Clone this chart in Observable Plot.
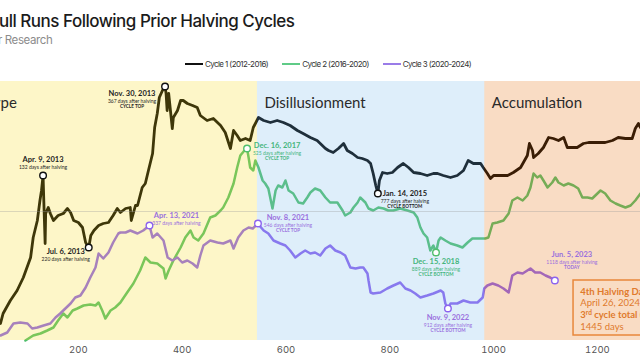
<!DOCTYPE html>
<html><head><meta charset="utf-8">
<script src="https://cdn.jsdelivr.net/npm/d3@7"></script>
<script src="https://cdn.jsdelivr.net/npm/@observablehq/plot@0.6"></script>
<style>
html,body{margin:0;padding:0;background:#fff;}
#wrap{position:relative;width:640px;height:360px;overflow:hidden;font-family:Inter,sans-serif;}
#title{position:absolute;left:-1px;top:11px;font-size:17px;line-height:20px;font-weight:500;letter-spacing:-0.5px;color:#1b1b1b;white-space:nowrap;}
#sub{position:absolute;left:-2px;top:33px;font-size:11.5px;line-height:14px;letter-spacing:-0.4px;color:#8c8c8c;white-space:nowrap;}
#legend{position:absolute;left:185px;top:59px;display:flex;align-items:center;font-size:8px;line-height:10px;letter-spacing:-0.6px;color:#333;white-space:nowrap;}
.it{display:flex;align-items:center;margin-right:14px;}
.sw{display:inline-block;width:18px;height:2px;margin-right:2px;}
#chart{position:absolute;left:0;top:75px;}
</style></head><body>
<div id="wrap">
<div id="title">ull Runs Following Prior Halving Cycles</div>
<div id="sub">r Research</div>
<div id="legend"></div>
<div id="chart"></div>
</div>
<script>
// ---- data (days after halving, relative index value) ----
const cycleNames = ["Cycle 1 (2012-2016)", "Cycle 2 (2016-2020)", "Cycle 3 (2020-2024)"];

const c1Day = [50,55,69,82,94,108,113,121,126,129,132,134,136,137,142,146,152,161,171,179,185,191,200,208,214,220,224,230,239,248,258,267,275,281,291,300,302,310,314,323,329,335,343,347,352,356,362,367,369,371,374,376,381,383,391,397,402,410,420,429,435,448,460,474,483,493,499,506,512,522,531,537,547,557,570,583,595,608,622,633,647,660,670,676,682,691,701,711,718,728,738,747,757,763,768,773,777,780,786,795,805,815,826,836,846,859,872,884,892,903,917,930,942,951,961,975,980,988,994,1000,1013,1027,1038,1052,1065,1069,1075,1077,1086,1096,1106,1115,1125,1135,1142,1152,1161,1173,1183,1200,1215,1229,1240,1254,1267,1273,1279,1283];
const c1Val = [17,27,40,50,63,83,103,120,140,150,165,130,97,127,133,127,120,125,127,132,128,120,118,113,98,93,105,110,115,117,118,125,132,128,132,133,120,135,135,153,157,170,187,213,227,243,250,254,247,230,247,237,212,223,230,240,240,237,235,233,225,220,222,215,208,192,210,205,200,202,200,213,223,220,218,220,218,215,210,207,203,200,195,192,190,188,192,197,190,187,183,182,180,177,167,155,147,160,168,167,168,173,177,173,168,167,165,167,167,165,163,165,170,180,177,177,173,167,162,165,165,165,168,173,185,197,190,183,187,193,203,202,200,203,193,193,193,197,198,198,198,200,203,202,202,212,217,213];

const c2Day = [98,113,127,140,152,161,171,179,189,198,210,223,233,239,246,252,262,271,281,294,306,319,329,339,352,364,368,374,383,397,406,416,422,431,441,454,464,474,479,489,499,506,512,520,525,528,531,537,541,547,555,560,566,574,580,585,593,599,605,614,624,633,641,647,656,666,676,685,699,709,714,724,730,738,743,753,759,768,778,788,797,807,820,834,846,853,859,865,872,878,884,889,894,898,907,917,930,940,950,959,971,984,990,998,1007,1019,1029,1036,1046,1056,1065,1071,1077,1084,1090,1096,1104,1113,1119,1125,1135,1144,1154,1163,1171,1181,1190,1200,1206,1215,1225,1235,1244,1254,1264,1273,1283];
const c2Val = [0,5,7,10,13,20,27,23,30,32,35,36,35,38,30,22,30,33,38,48,57,70,83,78,77,72,62,70,80,93,103,110,103,100,107,123,125,130,133,143,157,173,185,190,192,183,173,170,180,173,160,157,152,132,150,155,153,160,150,147,138,137,143,148,152,150,143,138,138,130,125,128,133,138,143,138,132,130,133,132,130,130,132,130,128,123,113,107,103,90,95,88,100,103,100,97,95,93,98,102,102,102,103,117,118,120,127,140,143,140,145,153,167,163,165,160,153,158,163,158,155,157,155,152,143,143,142,147,150,147,140,137,135,133,135,140,147];

const c3Day = [50,63,75,88,102,111,121,133,146,156,165,175,185,194,204,214,223,233,239,248,258,267,277,281,291,300,314,325,337,343,352,364,372,381,391,400,410,420,429,435,441,454,468,479,493,499,508,518,528,536,546,552,557,566,576,589,599,608,618,628,637,647,656,666,676,685,695,705,714,724,734,743,749,757,759,763,768,782,795,807,820,830,840,849,859,872,884,898,903,907,912,917,930,942,955,969,979,982,988,998,1009,1019,1029,1036,1046,1056,1065,1071,1080,1090,1100,1109,1118];
const c3Val = [5,8,17,18,17,12,13,15,17,23,27,32,37,43,45,53,63,73,87,82,88,98,107,108,108,110,107,110,115,103,107,100,83,80,83,78,80,77,73,85,95,100,98,97,100,92,103,110,113,112,117,113,110,107,100,97,95,90,83,87,90,87,88,85,92,95,90,88,85,73,72,73,73,67,60,48,47,48,52,55,58,52,50,47,43,45,47,50,48,37,32,37,37,40,38,38,43,52,55,57,55,52,48,65,68,67,70,72,68,68,65,63,60];

// annotations
const annDay   = [132, 220, 367, 777, 525, 889, 337, 546, 912, 1118];
const annVal   = [165, 93, 254, 147, 192, 88, 115, 117, 32, 60];
const annCycle = [0, 0, 0, 0, 1, 1, 2, 2, 2, 2];
const annDate  = ["Apr. 9, 2013","Jul. 6, 2013","Nov. 30, 2013","Jan. 14, 2015","Dec. 16, 2017","Dec. 15, 2018","Apr. 13, 2021","Nov. 8, 2021","Nov. 9, 2022","Jun. 5, 2023"];
const annTag   = ["", "", "CYCLE TOP", "CYCLE BOTTOM", "CYCLE TOP", "CYCLE BOTTOM", "", "CYCLE TOP", "CYCLE BOTTOM", "TODAY"];

// phases
const phaseName  = ["Hype", "Disillusionment", "Accumulation"];
const phaseStart = [0, 545, 983];
const phaseEnd   = [545, 983, 1460];

const xTicks = [200, 400, 600, 800, 1000, 1200];
const gridVals = [129];

const noteLines = ["4th Halving Date:", "April 26, 2024 (est.)", "3rd cycle total (est.):", "1445 days"];
const noteBold  = [true, false, true, false];

// ---- layout / style (not data) ----
const lineColor  = ["#000000", "#50bf6c", "#8c63ef"];
const legendColor = ["#111111", "#5fcb87", "#9a7ce8"];
const textColor  = ["#1e1e1e", "#45b57c", "#9a70de"];
const bandTint   = ["#f7db23", "#7bbbeb", "#e77313"];
const annOffset  = [[0,-16],[-23,4],[-33,7],[27,0],[30,-3],[0,9],[27,-10],[30,-6],[0,9],[17,-26]];
const noteBox = {x1: 1154, x2: 1500, y1: 5, y2: 60, textX: 1167};

// ---- build ----
const rows = (days, vals) => days.map((d, i) => ({day: d, val: vals[i]}));
const series = [rows(c1Day, c1Val), rows(c2Day, c2Val), rows(c3Day, c3Val)];
const anns = annDay.map((d, i) => ({day: d, val: annVal[i], cycle: annCycle[i], date: annDate[i],
  note: `${d} days after halving`, tag: annTag[i]}));
const phases = phaseName.map((n, i) => ({name: n, start: phaseStart[i], end: phaseEnd[i]}));

// legend
const leg = document.getElementById("legend");
cycleNames.forEach((n, i) => {
  const it = document.createElement("div"); it.className = "it";
  const sw = document.createElement("span"); sw.className = "sw"; sw.style.background = legendColor[i];
  const tx = document.createElement("span"); tx.textContent = n;
  it.append(sw, tx); leg.append(it);
});

const F = "Lato, 'Open Sans', sans-serif";
const marks = [];
series.forEach((s, k) => marks.push(Plot.line(s, {x: "day", y: "val", stroke: lineColor[k],
  strokeWidth: k === 0 ? 2.8 : 2.5, strokeLinejoin: "round"})));
phases.forEach((p, i) => marks.push(Plot.rect([p], {x1: "start", x2: "end", fill: bandTint[i], fillOpacity: 0.25})));
marks.push(Plot.ruleY(gridVals, {stroke: "#9a9a9a", strokeOpacity: 0.35, strokeWidth: 1}));
marks.push(Plot.text(phases, {x: "start", text: "name", frameAnchor: "top", dx: 7, dy: 16,
  textAnchor: "start", fontSize: 15, fontFamily: F, fill: "#2a2a2a"}));
anns.forEach((a, i) => {
  const [dx, dy] = annOffset[i];
  const c = textColor[a.cycle];
  marks.push(Plot.dot([a], {x: "day", y: "val", r: 3.3, fill: "white", stroke: lineColor[a.cycle] === "#000000" ? "#111" : lineColor[a.cycle], strokeWidth: 1.4}));
  marks.push(Plot.text([a], {x: "day", y: "val", text: "date", dx, dy, fontSize: 7.5, fontWeight: "bold", fontFamily: F, fill: c}));
  marks.push(Plot.text([a], {x: "day", y: "val", text: "note", dx, dy: dy + 7.5, fontSize: 5, fontFamily: F, fill: c}));
  if (a.tag) marks.push(Plot.text([a], {x: "day", y: "val", text: "tag", dx, dy: dy + 13.5, fontSize: 4.6, fontWeight: "bold", fontFamily: F, fill: c}));
});
marks.push(Plot.rect([noteBox], {x1: "x1", x2: "x2", y1: "y1", y2: "y2", fill: "none", stroke: "#e8873b", strokeWidth: 1.5}));
noteLines.forEach((t, i) => marks.push(Plot.text([{t, x: noteBox.textX, y: noteBox.y2}], {x: "x", y: "y", text: "t",
  dy: 11 + i * 11.7, textAnchor: "start", fontSize: 9.5, fontWeight: noteBold[i] ? "bold" : "normal", fontFamily: F, fill: "#e07a2c"})));

const chart = Plot.plot({
  width: 640, height: 285,
  marginTop: 6, marginBottom: 20, marginLeft: 0, marginRight: 0,
  style: {fontFamily: "Inter, sans-serif", fontSize: "9.5px", color: "#555", background: "transparent", overflow: "hidden"},
  x: {domain: [50, 1283], ticks: xTicks, tickSize: 0, tickPadding: 6, tickFormat: "d", label: null},
  y: {domain: [0, 259], axis: null},
  marks
});
document.getElementById("chart").append(chart);

// superscript for "3rd"
chart.querySelectorAll("text").forEach(t => {
  if (t.textContent === noteLines[2]) {
    const ns = "http://www.w3.org/2000/svg";
    t.textContent = "3";
    const sup = document.createElementNS(ns, "tspan");
    sup.setAttribute("baseline-shift", "super"); sup.setAttribute("font-size", "6.5");
    sup.textContent = "rd";
    const rest = document.createElementNS(ns, "tspan");
    rest.textContent = " cycle total (est.):";
    t.append(sup, rest);
  }
});
</script>
</body></html>
